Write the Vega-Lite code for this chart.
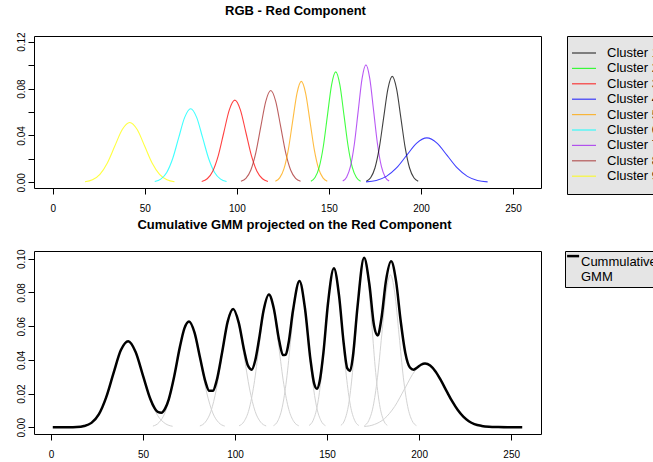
{
  "$schema": "https://vega.github.io/schema/vega-lite/v6.json",
  "background": "white",
  "padding": {"left": 15, "top": 4, "right": 0, "bottom": 0},
  "spacing": 4,
  "config": {
    "font": "Liberation Sans",
    "view": {"stroke": "#000", "strokeWidth": 1},
    "axis": {"grid": false, "domain": false, "tickColor": "#000", "tickSize": 6, "labelColor": "#000", "labelFontSize": 10, "labelFont": "Liberation Sans", "labelOverlap": false},
    "title": {"font": "Liberation Sans", "fontSize": 13, "fontWeight": "bold", "color": "#000"},
    "legend": {"labelFont": "Liberation Sans", "labelFontSize": 13, "labelColor": "#000", "fillColor": "#e5e5e5", "strokeColor": "#000", "labelLimit": 0}
  },
  "resolve": {"scale": {"color": "independent", "x": "independent", "y": "independent"}, "legend": {"color": "independent"}},
  "datasets": {
    "comp": [
      {"cluster": "Cluster 9", "x": 17.5, "y": 0.00057}, {"cluster": "Cluster 9", "x": 21.55, "y": 0.00224}, {"cluster": "Cluster 9", "x": 25.6, "y": 0.00691}, {"cluster": "Cluster 9", "x": 29.65, "y": 0.01659}, {"cluster": "Cluster 9", "x": 33.7, "y": 0.03099}, {"cluster": "Cluster 9", "x": 37.75, "y": 0.0451}, {"cluster": "Cluster 9", "x": 41.8, "y": 0.0511}, {"cluster": "Cluster 9", "x": 45.85, "y": 0.0451}, {"cluster": "Cluster 9", "x": 49.9, "y": 0.03099}, {"cluster": "Cluster 9", "x": 53.95, "y": 0.01659}, {"cluster": "Cluster 9", "x": 58.0, "y": 0.00691}, {"cluster": "Cluster 9", "x": 62.05, "y": 0.00224}, {"cluster": "Cluster 9", "x": 66.1, "y": 0.00057},
      {"cluster": "Cluster 6", "x": 55.4, "y": 0.0007}, {"cluster": "Cluster 6", "x": 58.65, "y": 0.00276}, {"cluster": "Cluster 6", "x": 61.9, "y": 0.0085}, {"cluster": "Cluster 6", "x": 65.15, "y": 0.02039}, {"cluster": "Cluster 6", "x": 68.4, "y": 0.03809}, {"cluster": "Cluster 6", "x": 71.65, "y": 0.05542}, {"cluster": "Cluster 6", "x": 74.9, "y": 0.0628}, {"cluster": "Cluster 6", "x": 78.15, "y": 0.05542}, {"cluster": "Cluster 6", "x": 81.4, "y": 0.03809}, {"cluster": "Cluster 6", "x": 84.65, "y": 0.02039}, {"cluster": "Cluster 6", "x": 87.9, "y": 0.0085}, {"cluster": "Cluster 6", "x": 91.15, "y": 0.00276}, {"cluster": "Cluster 6", "x": 94.4, "y": 0.0007},
      {"cluster": "Cluster 3", "x": 80.9, "y": 0.00078}, {"cluster": "Cluster 3", "x": 83.9, "y": 0.00308}, {"cluster": "Cluster 3", "x": 86.9, "y": 0.00948}, {"cluster": "Cluster 3", "x": 89.9, "y": 0.02276}, {"cluster": "Cluster 3", "x": 92.9, "y": 0.04252}, {"cluster": "Cluster 3", "x": 95.9, "y": 0.06186}, {"cluster": "Cluster 3", "x": 98.9, "y": 0.0701}, {"cluster": "Cluster 3", "x": 101.9, "y": 0.06186}, {"cluster": "Cluster 3", "x": 104.9, "y": 0.04252}, {"cluster": "Cluster 3", "x": 107.9, "y": 0.02276}, {"cluster": "Cluster 3", "x": 110.9, "y": 0.00948}, {"cluster": "Cluster 3", "x": 113.9, "y": 0.00308}, {"cluster": "Cluster 3", "x": 116.9, "y": 0.00078},
      {"cluster": "Cluster 8", "x": 102.2, "y": 0.00087}, {"cluster": "Cluster 8", "x": 104.9, "y": 0.00344}, {"cluster": "Cluster 8", "x": 107.6, "y": 0.01059}, {"cluster": "Cluster 8", "x": 110.3, "y": 0.02542}, {"cluster": "Cluster 8", "x": 113.0, "y": 0.04749}, {"cluster": "Cluster 8", "x": 115.7, "y": 0.0691}, {"cluster": "Cluster 8", "x": 118.4, "y": 0.0783}, {"cluster": "Cluster 8", "x": 121.1, "y": 0.0691}, {"cluster": "Cluster 8", "x": 123.8, "y": 0.04749}, {"cluster": "Cluster 8", "x": 126.5, "y": 0.02542}, {"cluster": "Cluster 8", "x": 129.2, "y": 0.01059}, {"cluster": "Cluster 8", "x": 131.9, "y": 0.00344}, {"cluster": "Cluster 8", "x": 134.6, "y": 0.00087},
      {"cluster": "Cluster 5", "x": 120.9, "y": 0.00096}, {"cluster": "Cluster 5", "x": 123.25, "y": 0.00378}, {"cluster": "Cluster 5", "x": 125.6, "y": 0.01165}, {"cluster": "Cluster 5", "x": 127.95, "y": 0.02796}, {"cluster": "Cluster 5", "x": 130.3, "y": 0.05222}, {"cluster": "Cluster 5", "x": 132.65, "y": 0.07598}, {"cluster": "Cluster 5", "x": 135.0, "y": 0.0861}, {"cluster": "Cluster 5", "x": 137.35, "y": 0.07598}, {"cluster": "Cluster 5", "x": 139.7, "y": 0.05222}, {"cluster": "Cluster 5", "x": 142.05, "y": 0.02796}, {"cluster": "Cluster 5", "x": 144.4, "y": 0.01165}, {"cluster": "Cluster 5", "x": 146.75, "y": 0.00378}, {"cluster": "Cluster 5", "x": 149.1, "y": 0.00096},
      {"cluster": "Cluster 2", "x": 140.2, "y": 0.00105}, {"cluster": "Cluster 2", "x": 142.45, "y": 0.00414}, {"cluster": "Cluster 2", "x": 144.7, "y": 0.01275}, {"cluster": "Cluster 2", "x": 146.95, "y": 0.03059}, {"cluster": "Cluster 2", "x": 149.2, "y": 0.05713}, {"cluster": "Cluster 2", "x": 151.45, "y": 0.08313}, {"cluster": "Cluster 2", "x": 153.7, "y": 0.0942}, {"cluster": "Cluster 2", "x": 155.95, "y": 0.08313}, {"cluster": "Cluster 2", "x": 158.2, "y": 0.05713}, {"cluster": "Cluster 2", "x": 160.45, "y": 0.03059}, {"cluster": "Cluster 2", "x": 162.7, "y": 0.01275}, {"cluster": "Cluster 2", "x": 164.95, "y": 0.00414}, {"cluster": "Cluster 2", "x": 167.2, "y": 0.00105},
      {"cluster": "Cluster 7", "x": 157.5, "y": 0.00111}, {"cluster": "Cluster 7", "x": 159.6, "y": 0.0044}, {"cluster": "Cluster 7", "x": 161.7, "y": 0.01356}, {"cluster": "Cluster 7", "x": 163.8, "y": 0.03253}, {"cluster": "Cluster 7", "x": 165.9, "y": 0.06077}, {"cluster": "Cluster 7", "x": 168.0, "y": 0.08843}, {"cluster": "Cluster 7", "x": 170.1, "y": 0.1002}, {"cluster": "Cluster 7", "x": 172.2, "y": 0.08843}, {"cluster": "Cluster 7", "x": 174.3, "y": 0.06077}, {"cluster": "Cluster 7", "x": 176.4, "y": 0.03253}, {"cluster": "Cluster 7", "x": 178.5, "y": 0.01356}, {"cluster": "Cluster 7", "x": 180.6, "y": 0.0044}, {"cluster": "Cluster 7", "x": 182.7, "y": 0.00111},
      {"cluster": "Cluster 1", "x": 170.3, "y": 0.001}, {"cluster": "Cluster 1", "x": 172.65, "y": 0.00397}, {"cluster": "Cluster 1", "x": 175.0, "y": 0.01223}, {"cluster": "Cluster 1", "x": 177.35, "y": 0.02935}, {"cluster": "Cluster 1", "x": 179.7, "y": 0.05483}, {"cluster": "Cluster 1", "x": 182.05, "y": 0.07978}, {"cluster": "Cluster 1", "x": 184.4, "y": 0.0904}, {"cluster": "Cluster 1", "x": 186.75, "y": 0.07978}, {"cluster": "Cluster 1", "x": 189.1, "y": 0.05483}, {"cluster": "Cluster 1", "x": 191.45, "y": 0.02935}, {"cluster": "Cluster 1", "x": 193.8, "y": 0.01223}, {"cluster": "Cluster 1", "x": 196.15, "y": 0.00397}, {"cluster": "Cluster 1", "x": 198.5, "y": 0.001},
      {"cluster": "Cluster 4", "x": 170.2, "y": 0.00042}, {"cluster": "Cluster 4", "x": 175.7, "y": 0.00166}, {"cluster": "Cluster 4", "x": 181.2, "y": 0.00513}, {"cluster": "Cluster 4", "x": 186.7, "y": 0.01231}, {"cluster": "Cluster 4", "x": 192.2, "y": 0.02299}, {"cluster": "Cluster 4", "x": 197.7, "y": 0.03345}, {"cluster": "Cluster 4", "x": 203.2, "y": 0.0379}, {"cluster": "Cluster 4", "x": 208.7, "y": 0.03345}, {"cluster": "Cluster 4", "x": 214.2, "y": 0.02299}, {"cluster": "Cluster 4", "x": 219.7, "y": 0.01231}, {"cluster": "Cluster 4", "x": 225.2, "y": 0.00513}, {"cluster": "Cluster 4", "x": 230.7, "y": 0.00166}, {"cluster": "Cluster 4", "x": 236.2, "y": 0.00042}
    ],
    "cum": [
      {"series": "Cummulative GMM", "x": 1, "y": 0}, {"series": "Cummulative GMM", "x": 10, "y": 0}, {"series": "Cummulative GMM", "x": 14, "y": 0.0001}, {"series": "Cummulative GMM", "x": 18, "y": 0.0007}, {"series": "Cummulative GMM", "x": 22, "y": 0.0026}, {"series": "Cummulative GMM", "x": 26, "y": 0.0076}, {"series": "Cummulative GMM", "x": 30, "y": 0.0177}, {"series": "Cummulative GMM", "x": 34, "y": 0.0321}, {"series": "Cummulative GMM", "x": 38, "y": 0.0458}, {"series": "Cummulative GMM", "x": 42, "y": 0.0511}, {"series": "Cummulative GMM", "x": 46, "y": 0.0447}, {"series": "Cummulative GMM", "x": 50, "y": 0.0307}, {"series": "Cummulative GMM", "x": 54, "y": 0.0168}, {"series": "Cummulative GMM", "x": 56, "y": 0.0119}, {"series": "Cummulative GMM", "x": 58, "y": 0.0091}, {"series": "Cummulative GMM", "x": 60, "y": 0.0086}, {"series": "Cummulative GMM", "x": 62, "y": 0.011}, {"series": "Cummulative GMM", "x": 64, "y": 0.0166}, {"series": "Cummulative GMM", "x": 67, "y": 0.0304}, {"series": "Cummulative GMM", "x": 70, "y": 0.0474}, {"series": "Cummulative GMM", "x": 72.5, "y": 0.0587}, {"series": "Cummulative GMM", "x": 75, "y": 0.0628}, {"series": "Cummulative GMM", "x": 78, "y": 0.0562}, {"series": "Cummulative GMM", "x": 81, "y": 0.0413}, {"series": "Cummulative GMM", "x": 84, "y": 0.0268}, {"series": "Cummulative GMM", "x": 86, "y": 0.0216}, {"series": "Cummulative GMM", "x": 88, "y": 0.0217}, {"series": "Cummulative GMM", "x": 90, "y": 0.0276}, {"series": "Cummulative GMM", "x": 93, "y": 0.0445}, {"series": "Cummulative GMM", "x": 96, "y": 0.0627}, {"series": "Cummulative GMM", "x": 99, "y": 0.0702}, {"series": "Cummulative GMM", "x": 102, "y": 0.0621}, {"series": "Cummulative GMM", "x": 105, "y": 0.0454}, {"series": "Cummulative GMM", "x": 107, "y": 0.0366}, {"series": "Cummulative GMM", "x": 109, "y": 0.0342}, {"series": "Cummulative GMM", "x": 111, "y": 0.0398}, {"series": "Cummulative GMM", "x": 113, "y": 0.0519}, {"series": "Cummulative GMM", "x": 115.5, "y": 0.0693}, {"series": "Cummulative GMM", "x": 118.4, "y": 0.0788}, {"series": "Cummulative GMM", "x": 121, "y": 0.0708}, {"series": "Cummulative GMM", "x": 124, "y": 0.0513}, {"series": "Cummulative GMM", "x": 126, "y": 0.0429}, {"series": "Cummulative GMM", "x": 127.5, "y": 0.043}, {"series": "Cummulative GMM", "x": 129, "y": 0.0495}, {"series": "Cummulative GMM", "x": 131.5, "y": 0.0694}, {"series": "Cummulative GMM", "x": 135, "y": 0.0868}, {"series": "Cummulative GMM", "x": 138, "y": 0.0705}, {"series": "Cummulative GMM", "x": 141, "y": 0.0399}, {"series": "Cummulative GMM", "x": 143, "y": 0.0258}, {"series": "Cummulative GMM", "x": 144.5, "y": 0.0228}, {"series": "Cummulative GMM", "x": 146, "y": 0.0274}, {"series": "Cummulative GMM", "x": 148, "y": 0.0441}, {"series": "Cummulative GMM", "x": 150.5, "y": 0.0736}, {"series": "Cummulative GMM", "x": 153.7, "y": 0.0943}, {"series": "Cummulative GMM", "x": 156.5, "y": 0.0781}, {"series": "Cummulative GMM", "x": 159, "y": 0.0501}, {"series": "Cummulative GMM", "x": 161, "y": 0.0349}, {"series": "Cummulative GMM", "x": 162.5, "y": 0.0334}, {"series": "Cummulative GMM", "x": 164, "y": 0.0418}, {"series": "Cummulative GMM", "x": 166.5, "y": 0.0712}, {"series": "Cummulative GMM", "x": 170.1, "y": 0.1006}, {"series": "Cummulative GMM", "x": 173, "y": 0.0846}, {"series": "Cummulative GMM", "x": 175.5, "y": 0.0604}, {"series": "Cummulative GMM", "x": 177.5, "y": 0.0545}, {"series": "Cummulative GMM", "x": 179.5, "y": 0.0644}, {"series": "Cummulative GMM", "x": 182, "y": 0.087}, {"series": "Cummulative GMM", "x": 184.8, "y": 0.0985}, {"series": "Cummulative GMM", "x": 187.5, "y": 0.0864}, {"series": "Cummulative GMM", "x": 190, "y": 0.0629}, {"series": "Cummulative GMM", "x": 192.5, "y": 0.0441}, {"series": "Cummulative GMM", "x": 195, "y": 0.0355}, {"series": "Cummulative GMM", "x": 197, "y": 0.0342}, {"series": "Cummulative GMM", "x": 199, "y": 0.0355}, {"series": "Cummulative GMM", "x": 201, "y": 0.0371}, {"series": "Cummulative GMM", "x": 203.2, "y": 0.0379}, {"series": "Cummulative GMM", "x": 206, "y": 0.0367}, {"series": "Cummulative GMM", "x": 209, "y": 0.033}, {"series": "Cummulative GMM", "x": 212, "y": 0.0275}, {"series": "Cummulative GMM", "x": 215, "y": 0.0213}, {"series": "Cummulative GMM", "x": 218, "y": 0.0153}, {"series": "Cummulative GMM", "x": 221, "y": 0.0102}, {"series": "Cummulative GMM", "x": 224, "y": 0.0063}, {"series": "Cummulative GMM", "x": 227, "y": 0.0036}, {"series": "Cummulative GMM", "x": 230, "y": 0.0019}, {"series": "Cummulative GMM", "x": 234, "y": 0.0008}, {"series": "Cummulative GMM", "x": 238, "y": 0.0003}, {"series": "Cummulative GMM", "x": 243, "y": 0.0001}, {"series": "Cummulative GMM", "x": 248, "y": 0}, {"series": "Cummulative GMM", "x": 256, "y": 0}
    ]
  },
  "vconcat": [
    {
      "width": 507,
      "height": 152,
      "title": {"text": "RGB - Red Component", "anchor": "middle", "frame": "group", "dx": 8, "offset": 14},
      "data": {"name": "comp"},
      "mark": {"type": "line", "interpolate": "monotone", "strokeWidth": 1.1, "opacity": 0.75, "clip": true},
      "encoding": {
        "x": {"field": "x", "type": "quantitative", "scale": {"domain": [-10.2, 265.2], "nice": false, "zero": false}, "axis": {"title": null, "values": [0, 50, 100, 150, 200, 250], "labelAngle": 0, "labelPadding": 9}},
        "y": {"field": "y", "type": "quantitative", "scale": {"domain": [-0.0048, 0.1248], "nice": false, "zero": false}, "axis": {"title": null, "values": [0, 0.02, 0.04, 0.06, 0.08, 0.1, 0.12], "format": ".2f", "labelExpr": "indexof(['0.00','0.04','0.08','0.12'], datum.label) >= 0 ? datum.label : ''", "labelAngle": -90, "labelAlign": "center", "labelBaseline": "bottom", "labelPadding": 2}},
        "color": {
          "field": "cluster", "type": "nominal",
          "scale": {"domain": ["Cluster 1", "Cluster 2", "Cluster 3", "Cluster 4", "Cluster 5", "Cluster 6", "Cluster 7", "Cluster 8", "Cluster 9"], "range": ["#000000", "#00FF00", "#FF0000", "#0000FF", "#FFA500", "#00FFFF", "#A020F0", "#A52A2A", "#FFFF00"]},
          "legend": {"orient": "right", "offset": 26, "title": null, "symbolType": "M-2,0L2,0", "symbolSize": 144, "symbolStrokeWidth": 1.2, "symbolOpacity": 0.75, "padding": 10, "rowPadding": 1.4, "labelOffset": 16}
        }
      }
    },
    {
      "width": 507,
      "height": 183,
      "title": {"text": "Cumulative GMM projected on the Red Component", "anchor": "middle", "frame": "group", "dx": 7, "offset": 17},
      "encoding": {
        "x": {"field": "x", "type": "quantitative", "scale": {"domain": [-9.2, 266.2], "nice": false, "zero": false}, "axis": {"title": null, "values": [0, 50, 100, 150, 200, 250], "labelAngle": 0, "labelPadding": 9}},
        "y": {"field": "y", "type": "quantitative", "scale": {"domain": [-0.004, 0.1046], "nice": false, "zero": false}, "axis": {"title": null, "values": [0, 0.02, 0.04, 0.06, 0.08, 0.1], "format": ".2f", "labelAngle": -90, "labelAlign": "center", "labelBaseline": "bottom", "labelPadding": 2}}
      },
      "layer": [
        {
          "data": {"name": "comp"},
          "mark": {"type": "line", "interpolate": "monotone", "color": "#d3d3d3", "strokeWidth": 1, "clip": true},
          "encoding": {"detail": {"field": "cluster", "type": "nominal"}}
        },
        {
          "data": {"name": "cum"},
          "mark": {"type": "line", "interpolate": "monotone", "strokeWidth": 2.5, "clip": true},
          "encoding": {
            "color": {"field": "series", "type": "nominal", "scale": {"domain": ["Cummulative GMM"], "range": ["#000000"]},
              "legend": {"orient": "right", "offset": 24, "title": null, "symbolType": "M-1.4,-0.9L0.6,-0.9", "symbolSize": 144, "symbolStrokeWidth": 2.5, "padding": 3, "labelOffset": -2, "labelExpr": "['Cummulative', 'GMM']"}}
          }
        }
      ]
    }
  ]
}
